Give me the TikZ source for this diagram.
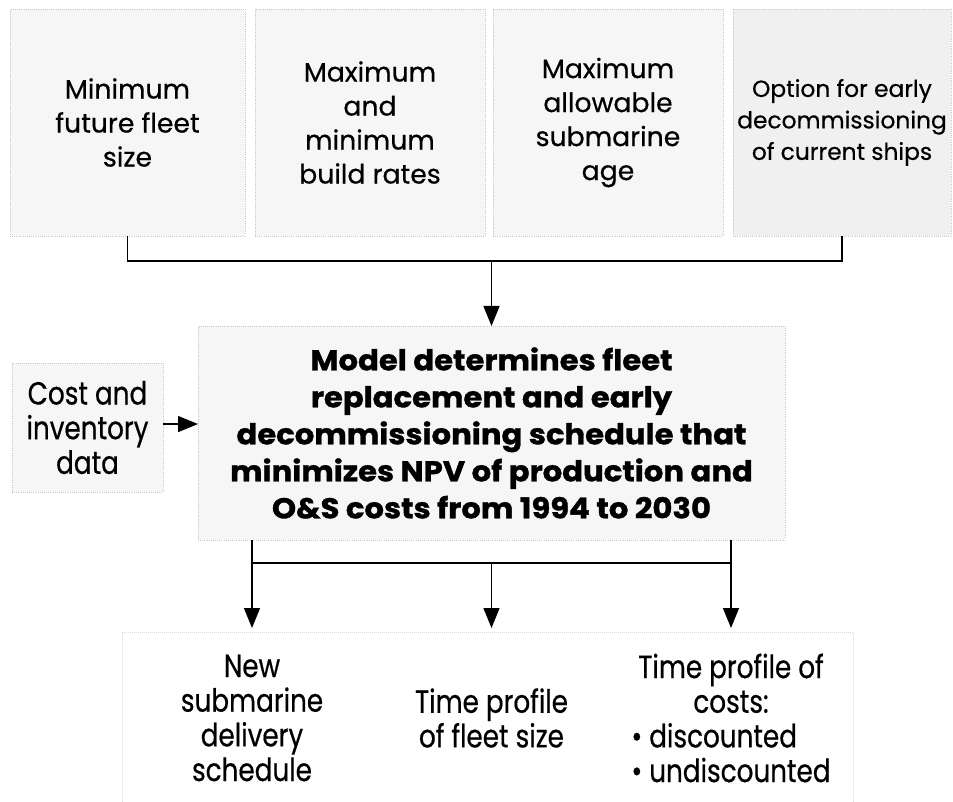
\documentclass[tikz,border=0pt]{standalone}
\usepackage{fontspec}
\setmainfont{Poppins}[FakeBold=0.5, BoldFeatures={FakeBold=1.2, FakeStretch=1.07}]
\newfontfamily\condfont{Poppins}[FakeStretch=0.82, FakeBold=0.5]
\usetikzlibrary{arrows.meta,calc}

\begin{document}
\begin{tikzpicture}[x=0.75pt,y=-0.75pt,
  every node/.style={inner sep=0pt, outer sep=0pt},
  boxsize/.style 2 args={minimum width=#1*0.75pt, minimum height=#2*0.75pt},
  inbox/.style={draw=gray!45, densely dotted, line width=0.6pt, fill=gray!7,
    align=center, text=black, font=\fontsize{20pt}{25.5pt}\selectfont},
  condtext/.style={font=\condfont\fontsize{24pt}{26pt}\selectfont},
  outtext/.style={condtext, align=center, anchor=north, minimum height=135pt},
  wire/.style={line width=1.1pt, black},
  feed/.style={wire, -{Triangle[length=15pt,width=12pt]}}
]
% canvas
\useasboundingbox (0,0) rectangle (953,802);
\fill[white] (0,0) rectangle (953,802);

% faint panel behind the results
\draw[gray!30, densely dotted, line width=0.5pt] (122,802) |- (853,632) -- (853,802);

% input constraints
\node[inbox, boxsize={235}{227}] (b1) at (127.5,122.5) {Minimum\\future fleet\\size};
\node[inbox, boxsize={230}{227}] (b2) at (370,122.5) {Maximum\\and\\minimum\\build rates};
\node[inbox, boxsize={230}{227}] (b3) at (608,122.5) {Maximum\\allowable\\submarine\\age};
\node[inbox, boxsize={218}{227}, fill=gray!12,
      font=\fontsize{17.5pt}{23.6pt}\selectfont] (b4) at (842,122.5)
  {Option for early\\decommissioning\\of current ships};

% optimisation model
\node[inbox, boxsize={587}{214}, font=\bfseries\fontsize{21.5pt}{27.75pt}\selectfont] (model) at (491.5,433)
  {Model determines fleet\\replacement and early\\decommissioning schedule that\\minimizes NPV of production and\\O\&S costs from 1994 to 2030};

% data input
\node[inbox, condtext, boxsize={151}{129}] (cost) at (87.5,427.5) {Cost and\\inventory\\data};

% results
\node[outtext] (out1) at (252,628) {New\\submarine\\delivery\\schedule};
\node[outtext] (out2) at (491.5,628) {Time profile\\of fleet size};
\node[outtext] (out3) at (731,628)
  {Time profile of\\costs:\\• discounted\hphantom{un}\\• undiscounted};

% constraints feed the model
\draw[wire] (b1.south) -- ++(0,25) coordinate (tl) -| (b4.south);
\draw[feed] (tl -| model.north) -- (model.north);

% data feeds the model
\draw[feed] ([yshift=2.6pt]cost.east) -- ([yshift=2.6pt]cost.east -| model.west);

% model outputs
\coordinate (bl) at ($(model.south west)+(54,0)$);
\coordinate (br) at (out3.north |- model.south);
\draw[wire] (bl) -- ++(0,23) coordinate (jl) -- (jl -| br) coordinate (jr) -- (br);
\draw[feed] (jl) -- (out1.north);
\draw[feed] (jl -| out2.north) -- (out2.north);
\draw[feed] (jr) -- (out3.north);
\end{tikzpicture}
\end{document}
